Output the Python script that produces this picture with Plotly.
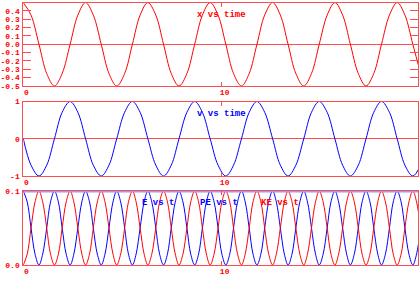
import plotly.graph_objects as go

# time samples (s) for x and v panels
t_xv = [0, 0.39, 0.79, 1.18, 1.57, 1.96, 2.36, 2.75, 3.14, 3.53, 3.93, 4.32, 4.71,
        5.11, 5.50, 5.89, 6.28, 6.68, 7.07, 7.46, 7.85, 8.25, 8.64, 9.03, 9.42,
        9.82, 10.21, 10.60, 11.00, 11.39, 11.78, 12.17, 12.57, 12.96, 13.35, 13.74,
        14.14, 14.53, 14.92, 15.32, 15.71, 16.10, 16.49, 16.89, 17.28, 17.67, 18.06,
        18.46, 18.85, 19.24, 19.64, 20.03]

x_vals = [0.5, 0.35, 0, -0.35, -0.5, -0.35, 0, 0.35,
          0.5, 0.35, 0, -0.35, -0.5, -0.35, 0, 0.35,
          0.5, 0.35, 0, -0.35, -0.5, -0.35, 0, 0.35,
          0.5, 0.35, 0, -0.35, -0.5, -0.35, 0, 0.35,
          0.5, 0.35, 0, -0.35, -0.5, -0.35, 0, 0.35,
          0.5, 0.35, 0, -0.35, -0.5, -0.35, 0, 0.35,
          0.5, 0.35, 0, -0.35]

v_vals = [0, -0.71, -1, -0.71, 0, 0.71, 1, 0.71,
          0, -0.71, -1, -0.71, 0, 0.71, 1, 0.71,
          0, -0.71, -1, -0.71, 0, 0.71, 1, 0.71,
          0, -0.71, -1, -0.71, 0, 0.71, 1, 0.71,
          0, -0.71, -1, -0.71, 0, 0.71, 1, 0.71,
          0, -0.71, -1, -0.71, 0, 0.71, 1, 0.71,
          0, -0.71, -1, -0.71]

# time samples for energy panel
t_en = [0, 0.20, 0.39, 0.59, 0.79, 0.98, 1.18, 1.37, 1.57, 1.77, 1.96, 2.16, 2.36,
        2.55, 2.75, 2.95, 3.14, 3.34, 3.53, 3.73, 3.93, 4.12, 4.32, 4.52, 4.71,
        4.91, 5.11, 5.30, 5.50, 5.69, 5.89, 6.09, 6.28, 6.48, 6.68, 6.87, 7.07,
        7.27, 7.46, 7.66, 7.85, 8.05, 8.25, 8.44, 8.64, 8.84, 9.03, 9.23, 9.42,
        9.62, 9.82, 10.01, 10.21, 10.41, 10.60, 10.80, 11.00, 11.19, 11.39, 11.58,
        11.78, 11.98, 12.17, 12.37, 12.57, 12.76, 12.96, 13.16, 13.35, 13.55, 13.74,
        13.94, 14.14, 14.33, 14.53, 14.73, 14.92, 15.12, 15.32, 15.51, 15.71, 15.90,
        16.10, 16.30, 16.49, 16.69, 16.89, 17.08, 17.28, 17.48, 17.67, 17.87, 18.06,
        18.26, 18.46, 18.65, 18.85, 19.05, 19.24, 19.44, 19.64, 19.83, 20.03]

pe_vals = [0.1, 0.085, 0.05, 0.015, 0, 0.015, 0.05, 0.085,
           0.1, 0.085, 0.05, 0.015, 0, 0.015, 0.05, 0.085,
           0.1, 0.085, 0.05, 0.015, 0, 0.015, 0.05, 0.085,
           0.1, 0.085, 0.05, 0.015, 0, 0.015, 0.05, 0.085,
           0.1, 0.085, 0.05, 0.015, 0, 0.015, 0.05, 0.085,
           0.1, 0.085, 0.05, 0.015, 0, 0.015, 0.05, 0.085,
           0.1, 0.085, 0.05, 0.015, 0, 0.015, 0.05, 0.085,
           0.1, 0.085, 0.05, 0.015, 0, 0.015, 0.05, 0.085,
           0.1, 0.085, 0.05, 0.015, 0, 0.015, 0.05, 0.085,
           0.1, 0.085, 0.05, 0.015, 0, 0.015, 0.05, 0.085,
           0.1, 0.085, 0.05, 0.015, 0, 0.015, 0.05, 0.085,
           0.1, 0.085, 0.05, 0.015, 0, 0.015, 0.05, 0.085,
           0.1, 0.085, 0.05, 0.015, 0, 0.015, 0.05]

ke_vals = [0, 0.015, 0.05, 0.085, 0.1, 0.085, 0.05, 0.015,
           0, 0.015, 0.05, 0.085, 0.1, 0.085, 0.05, 0.015,
           0, 0.015, 0.05, 0.085, 0.1, 0.085, 0.05, 0.015,
           0, 0.015, 0.05, 0.085, 0.1, 0.085, 0.05, 0.015,
           0, 0.015, 0.05, 0.085, 0.1, 0.085, 0.05, 0.015,
           0, 0.015, 0.05, 0.085, 0.1, 0.085, 0.05, 0.015,
           0, 0.015, 0.05, 0.085, 0.1, 0.085, 0.05, 0.015,
           0, 0.015, 0.05, 0.085, 0.1, 0.085, 0.05, 0.015,
           0, 0.015, 0.05, 0.085, 0.1, 0.085, 0.05, 0.015,
           0, 0.015, 0.05, 0.085, 0.1, 0.085, 0.05, 0.015,
           0, 0.015, 0.05, 0.085, 0.1, 0.085, 0.05, 0.015,
           0, 0.015, 0.05, 0.085, 0.1, 0.085, 0.05, 0.015,
           0, 0.015, 0.05, 0.085, 0.1, 0.085, 0.05]

t_E = [0, 20.03]
E_vals = [0.1, 0.1]

x_ticks = [0, 10]
x_ticktext = ["0", "10"]
y1_ticks = [0.4, 0.3, 0.2, 0.1, 0.0, -0.1, -0.2, -0.3, -0.4, -0.5]
y1_ticktext = ["0.4", "0.3", "0.2", "0.1", "0.0", "-0.1", "-0.2", "-0.3", "-0.4", "-0.5"]
y2_ticks = [1, 0, -1]
y2_ticktext = ["1", "0", "-1"]
y3_ticks = [0.1, 0.0]
y3_ticktext = ["0.1", "0.0"]

RED = "#ff0000"
BLUE = "#0000ff"
LINEC = "#ff4d4d"
FONT = dict(family="Liberation Mono, DejaVu Sans Mono, monospace", size=8, color=RED, weight="bold")
TFONT = dict(family="Liberation Mono, DejaVu Sans Mono, monospace", size=9, weight="bold")

fig = go.Figure()
fig.add_trace(go.Scatter(x=t_xv, y=x_vals, mode="lines", line=dict(color=RED, width=1, shape="spline"),
                         xaxis="x", yaxis="y", showlegend=False))
fig.add_trace(go.Scatter(x=t_xv, y=v_vals, mode="lines", line=dict(color=BLUE, width=1, shape="spline"),
                         xaxis="x2", yaxis="y2", showlegend=False))
fig.add_trace(go.Scatter(x=t_en, y=pe_vals, mode="lines", line=dict(color=BLUE, width=1, shape="spline"),
                         xaxis="x3", yaxis="y3", showlegend=False))
fig.add_trace(go.Scatter(x=t_en, y=ke_vals, mode="lines", line=dict(color=RED, width=1, shape="spline"),
                         xaxis="x3", yaxis="y3", showlegend=False))
fig.add_trace(go.Scatter(x=t_E, y=E_vals, mode="lines", line=dict(color="#9a9aff", width=3),
                         xaxis="x3", yaxis="y3", showlegend=False))

xdom = [23.3 / 420, 418 / 420]
common_x = dict(range=[0, 19.9], tickvals=x_ticks, ticktext=x_ticktext, tickfont=FONT,
                showline=True, linecolor=LINEC, linewidth=1, mirror="allticks",
                ticks="inside", ticklen=4, tickcolor=LINEC, showgrid=False, zeroline=False,
                domain=xdom, fixedrange=True, ticklabelshift=3, ticklabelstandoff=-2,
                automargin=False)

ycommon = dict(tickfont=FONT, showgrid=False, showline=True, linecolor=LINEC, fixedrange=True,
               ticklabelstandoff=1, automargin=False)

layout = dict(
    width=420, height=284,
    margin=dict(l=0, r=0, t=0, b=0, pad=0),
    paper_bgcolor="white", plot_bgcolor="white",
    xaxis=dict(common_x, anchor="y"),
    xaxis2=dict(common_x, anchor="y2"),
    xaxis3=dict(common_x, anchor="y3"),
    yaxis=dict(ycommon, domain=[1 - 86 / 284, 1 - 2.6 / 284], range=[-0.5, 0.5], tickvals=y1_ticks,
               ticktext=y1_ticktext, ticks="inside", ticklen=8, tickcolor=LINEC,
               mirror="allticks", zeroline=True, zerolinecolor=LINEC, zerolinewidth=1, anchor="x"),
    yaxis2=dict(ycommon, domain=[1 - 176 / 284, 1 - 101.5 / 284], range=[-1, 1], tickvals=y2_ticks,
                ticktext=y2_ticktext, ticks="", mirror=True, zeroline=True, zerolinecolor=LINEC,
                zerolinewidth=1, anchor="x2"),
    yaxis3=dict(ycommon, domain=[1 - 265 / 284, 1 - 191 / 284], range=[0, 0.1], tickvals=y3_ticks,
                ticktext=y3_ticktext, ticks="", mirror=True, zeroline=False, anchor="x3"),
)
fig.update_layout(**layout)

ann_font_r = dict(TFONT, color=RED)
ann_font_b = dict(TFONT, color=BLUE)
for txt, xp, yp, f in [("x vs time", 221, 15, ann_font_r),
                       ("v vs time", 221.5, 114, ann_font_b),
                       ("E vs t", 158, 203, ann_font_b),
                       ("PE vs t", 218.5, 203, ann_font_b),
                       ("KE vs t", 280, 203, ann_font_r)]:
    fig.add_annotation(text=txt, x=xp / 420, y=1 - yp / 284, xref="paper", yref="paper",
                       xanchor="center", yanchor="middle", showarrow=False, font=f)

fig.write_html("out.html", config=dict(displayModeBar=False))
